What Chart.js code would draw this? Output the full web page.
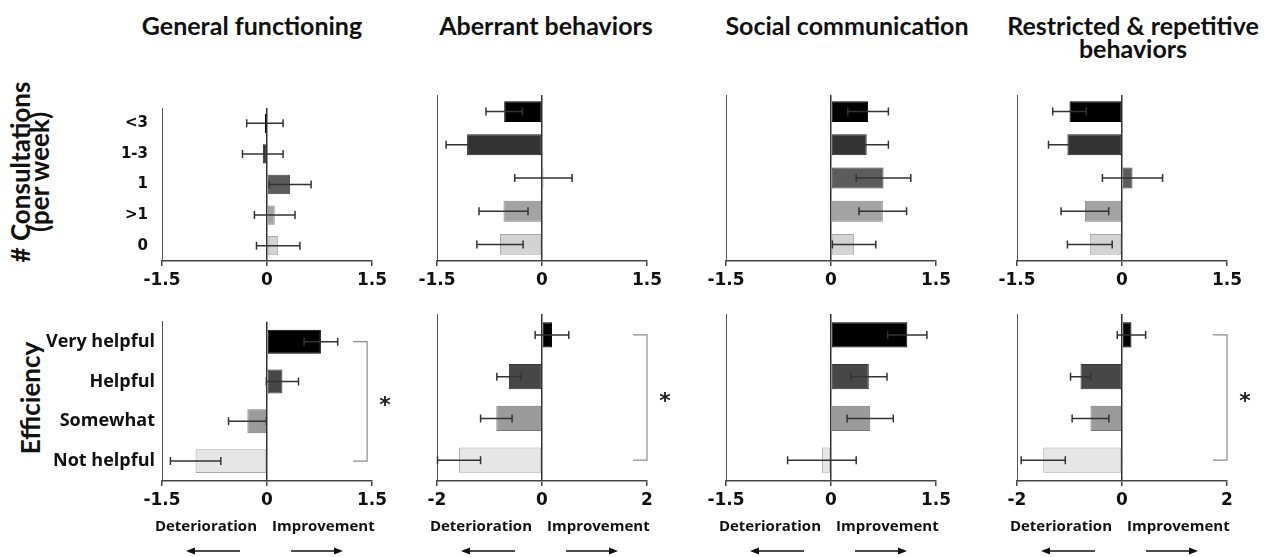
<!DOCTYPE html>
<html>
<head>
<meta charset="utf-8">
<script src="https://cdn.jsdelivr.net/npm/chart.js@4.4.1/dist/chart.umd.min.js"></script>
<style>
  body { margin: 0; background: #fff; }
  #wrap { position: relative; width: 1266px; height: 557px; overflow: hidden; }
  canvas { position: absolute; }
  .title { position: absolute; font-family: Lato; font-weight: bold; font-size: 25px;
           line-height: 23px; text-align: center; color: #111; white-space: nowrap; transform: translateX(-50%); }
  .rowlab { position: absolute; font-family: Lato; font-weight: bold; font-size: 26px;
            line-height: 19px; text-align: center; color: #111; white-space: nowrap;
            transform: translate(-50%, -50%) rotate(-90deg); }
</style>
</head>
<body>
<div id="wrap">
  <div class="title" style="left:252px; top:14px;">General functioning</div>
  <div class="title" style="left:546px; top:14px;">Aberrant behaviors</div>
  <div class="title" style="left:847px; top:14px;">Social communication</div>
  <div class="title" style="left:1133px; top:14px;">Restricted &amp; repetitive<br>behaviors</div>
  <div class="rowlab" style="left:30px; top:172px;"># Consultations<br>(per week)</div>
  <div class="rowlab" style="left:30px; top:398px;">Efficiency</div>
</div>
<script>
// categories
const consultCats = ['<3', '1-3', '1', '>1', '0'];
const efficiencyCats = ['Very helpful', 'Helpful', 'Somewhat', 'Not helpful'];

// mean change per outcome, consultations per week
const generalConsult = [-0.03, -0.06, 0.33, 0.11, 0.16];
const generalConsultErr = [0.26, 0.29, 0.30, 0.29, 0.31];
const aberrantConsult = [-0.54, -1.07, 0.02, -0.55, -0.60];
const aberrantConsultErr = [0.26, 0.30, 0.41, 0.35, 0.33];
const socialConsult = [0.53, 0.51, 0.75, 0.74, 0.33];
const socialConsultErr = [0.29, 0.31, 0.39, 0.34, 0.31];
const restrictedConsult = [-0.75, -0.78, 0.15, -0.53, -0.46];
const restrictedConsultErr = [0.24, 0.27, 0.43, 0.34, 0.32];

// mean change per outcome, perceived efficiency
const generalEff = [0.77, 0.22, -0.28, -1.02];
const generalEffErr = [0.24, 0.23, 0.27, 0.36];
const aberrantEff = [0.19, -0.63, -0.87, -1.58];
const aberrantEffErr = [0.32, 0.23, 0.30, 0.41];
const socialEff = [1.09, 0.54, 0.56, -0.13];
const socialEffErr = [0.28, 0.26, 0.33, 0.49];
const restrictedEff = [0.18, -0.79, -0.60, -1.50];
const restrictedEffErr = [0.27, 0.19, 0.35, 0.42];

// axis limits (ticks at -lim, 0, lim)
const consultLimits = [1.5, 1.5, 1.5, 1.5];
const effLimits = [1.5, 2, 1.5, 2];
// where the significance bracket sits (x value), null = none
const effBracket = [1.43, 2, null, 2];

// styles
const consultFill = ['#000000', '#333333', '#5c5c5c', '#a3a3a3', '#d3d3d3'];
const consultLine = ['#000000', '#222222', '#444444', '#858585', '#a8a8a8'];
const effFill = ['#000000', '#474747', '#9b9b9b', '#e6e6e6'];
const effLine = ['#000000', '#333333', '#777777', '#a8a8a8'];

// panel geometry
const colLeft = [0, 407, 696, 987];
const colWidth = [402, 270, 270, 279];
const padLeft = [0, 30, 30, 30];
const padRight = [30, 30, 30, 39];
const yAxisWidth = [162, 0, 0, 0];

const errorBars = {
  id: 'errorBars',
  afterDatasetsDraw(chart) {
    const { ctx, scales: { x, y } } = chart;
    const ds = chart.data.datasets[0];
    ctx.save();
    ctx.strokeStyle = '#333';
    ctx.lineWidth = 1.5;
    ds.data.forEach((v, i) => {
      const cy = y.getPixelForValue(i);
      const x0 = x.getPixelForValue(v - ds.errors[i]);
      const x1 = x.getPixelForValue(v + ds.errors[i]);
      ctx.beginPath();
      ctx.moveTo(x0, cy); ctx.lineTo(x1, cy);
      ctx.moveTo(x0, cy - 4); ctx.lineTo(x0, cy + 4);
      ctx.moveTo(x1, cy - 4); ctx.lineTo(x1, cy + 4);
      ctx.stroke();
    });
    ctx.restore();
  }
};

const drawArrow = (ctx, from, to, y) => {
  const dir = Math.sign(to - from);
  ctx.beginPath();
  ctx.moveTo(from, y); ctx.lineTo(to - dir * 6, y);
  ctx.stroke();
  ctx.beginPath();
  ctx.moveTo(to, y); ctx.lineTo(to - dir * 9, y - 3.5); ctx.lineTo(to - dir * 9, y + 3.5);
  ctx.closePath();
  ctx.fill();
};

const extras = {
  id: 'extras',
  afterDraw(chart, args, opts) {
    const { ctx, scales: { x, y }, chartArea } = chart;
    ctx.save();
    if (opts.bracketAt != null) {
      const bx = x.getPixelForValue(opts.bracketAt);
      const yTop = y.getPixelForValue(0);
      const yBot = y.getPixelForValue(chart.data.labels.length - 1);
      ctx.strokeStyle = '#8c8c8c';
      ctx.lineWidth = 1.2;
      ctx.beginPath();
      ctx.moveTo(bx - 14, yTop); ctx.lineTo(bx, yTop); ctx.lineTo(bx, yBot); ctx.lineTo(bx - 14, yBot);
      ctx.stroke();
      ctx.fillStyle = '#222';
      ctx.font = 'bold 22px "DejaVu Sans"';
      ctx.textAlign = 'center';
      ctx.textBaseline = 'middle';
      ctx.fillText('*', bx + 18, (yTop + yBot) / 2 + 5);
    }
    if (opts.direction) {
      const zx = x.getPixelForValue(0);
      ctx.fillStyle = '#111';
      ctx.strokeStyle = '#111';
      ctx.lineWidth = 1.5;
      ctx.font = 'bold 15px "Open Sans"';
      ctx.textBaseline = 'middle';
      ctx.textAlign = 'right';
      ctx.fillText('Deterioration', zx - 10, chartArea.bottom + 46);
      ctx.textAlign = 'left';
      ctx.fillText('Improvement', zx + 5, chartArea.bottom + 46);
      drawArrow(ctx, zx - 27, zx - 81, chartArea.bottom + 70);
      drawArrow(ctx, zx + 24, zx + 76, chartArea.bottom + 70);
    }
    ctx.restore();
  }
};

const createPanel = (col, top, height, padTop, xAxisHeight, cats, values, errs, lim, fills, lines, opts) => {
  const canvas = document.createElement('canvas');
  canvas.width = colWidth[col];
  canvas.height = height;
  canvas.style.left = colLeft[col] + 'px';
  canvas.style.top = top + 'px';
  document.getElementById('wrap').appendChild(canvas);
  return new Chart(canvas.getContext('2d'), {
    type: 'bar',
    data: {
      labels: cats,
      datasets: [{
        data: values,
        errors: errs,
        backgroundColor: fills,
        borderColor: lines,
        borderWidth: 1,
        borderSkipped: false,
        categoryPercentage: 1,
        barPercentage: opts.barPct
      }]
    },
    options: {
      indexAxis: 'y',
      responsive: false,
      animation: false,
      layout: { padding: { top: padTop, left: padLeft[col], right: padRight[col], bottom: 0 } },
      plugins: {
        legend: { display: false },
        tooltip: { enabled: false },
        extras: { bracketAt: opts.bracketAt, direction: opts.direction }
      },
      scales: {
        x: {
          min: -lim,
          max: lim,
          afterFit: (scale) => { scale.height = xAxisHeight; },
          ticks: {
            stepSize: lim,
            autoSkip: false,
            maxRotation: 0,
            padding: 4,
            color: '#111',
            font: { family: 'DejaVu Sans', weight: 'bold', size: 17 }
          },
          grid: {
            color: (c) => (c.tick && c.tick.value === 0 ? '#333' : 'rgba(0,0,0,0)'),
            lineWidth: 1.5,
            tickColor: '#444',
            tickLength: 5
          },
          border: { display: true, color: '#444', width: 1.5 }
        },
        y: {
          afterFit: (scale) => { scale.width = yAxisWidth[col]; },
          ticks: {
            display: col === 0,
            padding: opts.labelPad,
            color: '#111',
            font: opts.labelFont
          },
          grid: { display: false, drawTicks: false },
          border: { display: true, color: '#555', width: 1 }
        }
      }
    },
    plugins: [errorBars, extras]
  });
};

const consultData = [
  [generalConsult, generalConsultErr],
  [aberrantConsult, aberrantConsultErr],
  [socialConsult, socialConsultErr],
  [restrictedConsult, restrictedConsultErr]
];
const effData = [
  [generalEff, generalEffErr],
  [aberrantEff, aberrantEffErr],
  [socialEff, socialEffErr],
  [restrictedEff, restrictedEffErr]
];

consultData.forEach(([vals, errs], col) => {
  createPanel(col, 85, 216, 10, 40, consultCats, vals, errs, consultLimits[col], consultFill, consultLine, {
    barPct: 0.63,
    labelPad: 14,
    labelFont: { family: 'DejaVu Sans', weight: 'bold', size: 15 },
    bracketAt: null,
    direction: false
  });
});

effData.forEach(([vals, errs], col) => {
  createPanel(col, 304, 253, 10, 76, efficiencyCats, vals, errs, effLimits[col], effFill, effLine, {
    barPct: 0.6,
    labelPad: 7,
    labelFont: { family: 'Open Sans', weight: 'bold', size: 18 },
    bracketAt: effBracket[col],
    direction: true
  });
});
</script>
</body>
</html>
